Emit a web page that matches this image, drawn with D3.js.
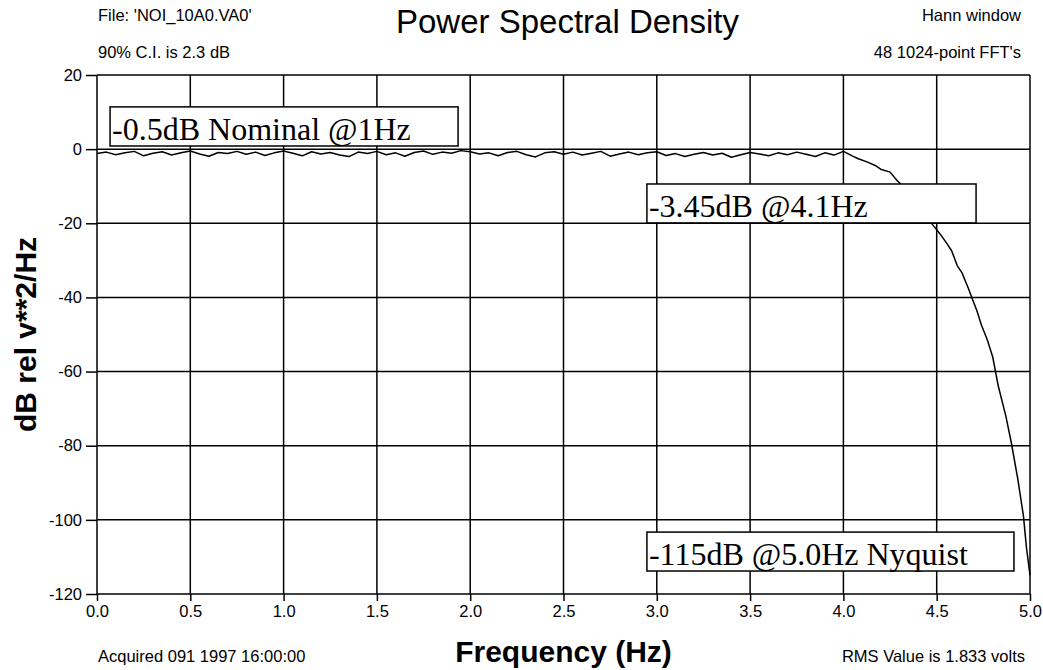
<!DOCTYPE html>
<html>
<head>
<meta charset="utf-8">
<script src="https://cdn.jsdelivr.net/npm/d3@7"></script>
<style>
	body { margin: 0; background: #fff; }
	svg { display: block; }
	.sans { font-family: "Liberation Sans", Arial, sans-serif; }
	.serif { font-family: "Liberation Serif", "Times New Roman", serif; }
</style>
</head>
<body>
<div id="plot"></div>
<script>
// Axis ticks and labels.
var xTicks = [0, 0.5, 1.0, 1.5, 2.0, 2.5, 3.0, 3.5, 4.0, 4.5, 5.0];
var xTickLabels = ["0.0", "0.5", "1.0", "1.5", "2.0", "2.5", "3.0", "3.5", "4.0", "4.5", "5.0"];
var yTicks = [20, 0, -20, -40, -60, -80, -100, -120];

// Flat part of the spectrum, one value every 0.05 Hz from 0.0 to 4.0 Hz (dB).
var flatStep = 0.05;
var flatDb = [-1.2, -0.8, -1.5, -1.0, -0.6, -1.8, -1.1, -0.7, -1.6, -1.0,
	-0.5, -1.3, -1.9, -0.9, -1.2, -0.6, -1.4, -0.8, -1.7, -1.0,
	-0.5, -1.1, -1.8, -0.7, -1.3, -0.9, -1.6, -2.0, -0.8, -1.2,
	-0.6, -1.5, -1.0, -1.9, -0.9, -0.5, -1.4, -0.8, -1.1, -0.4,
	-0.7, -1.3, -1.0, -1.8, -0.9, -0.6, -1.5, -2.1, -1.0, -0.7,
	-1.4, -0.8, -1.6, -1.1, -0.6, -1.9, -1.3, -0.8, -1.5, -1.0,
	-0.7, -1.7, -1.2, -2.0, -1.4, -0.9, -1.6, -1.1, -2.2, -1.5,
	-0.9, -1.3, -1.8, -1.0, -1.5, -0.8, -1.4, -2.0, -1.0, -1.6,
	-0.6];

// Roll-off above 4 Hz.
var rollFreq = [4.05, 4.08, 4.13, 4.17, 4.20, 4.25, 4.29, 4.33, 4.37, 4.41,
	4.45, 4.48, 4.52, 4.555, 4.58, 4.61, 4.635, 4.67, 4.69, 4.715,
	4.74, 4.77, 4.80, 4.83, 4.87, 4.90, 4.935, 4.965, 4.98, 5.0];
var rollDb = [-1.9, -2.6, -3.5, -4.4, -5.4, -6.2, -8.6, -10.5, -12.5, -15.5,
	-18.5, -20.5, -23.0, -25.5, -27.4, -31.4, -33.3, -37.6, -40.3, -43.5,
	-47.5, -51.3, -56.0, -63.9, -71.9, -79.2, -89.1, -99.0, -107.0, -115.0];

// Annotation boxes (text, freq range, dB range).
var annoText = ["-0.5dB Nominal @1Hz", "-3.45dB @4.1Hz", "-115dB @5.0Hz Nyquist"];
var annoF0 = [0.07, 2.947, 2.947];
var annoF1 = [1.935, 4.711, 4.914];
var annoTop = [11.4, -9.4, -103.3];
var annoBottom = [0.85, -19.9, -113.8];

// Page and plot area.
var W = 1043, H = 670;
var plotLeft = 97, plotRight = 1030, plotTop = 75, plotBottom = 594;

var svg = d3.select("#plot")
	.append("svg")
	.attr("width", W)
	.attr("height", H);

var x = d3.scaleLinear().domain([0, 5]).range([plotLeft, plotRight]);
var y = d3.scaleLinear().domain([-120, 20]).range([plotBottom, plotTop]);

// Grid lines.
svg.append("g")
	.selectAll("line")
	.data(xTicks)
	.enter().append("line")
		.attr("x1", d => x(d)).attr("x2", d => x(d))
		.attr("y1", plotTop).attr("y2", plotBottom)
		.attr("stroke", "#000").attr("stroke-width", 1.5);
svg.append("g")
	.selectAll("line")
	.data(yTicks)
	.enter().append("line")
		.attr("x1", plotLeft).attr("x2", plotRight)
		.attr("y1", d => y(d)).attr("y2", d => y(d))
		.attr("stroke", "#000").attr("stroke-width", 1.5);

// Y axis ticks + labels (plain hyphen minus like the original).
var yAxis = svg.append("g")
	.attr("class", "sans")
	.attr("transform", "translate(" + plotLeft + ",0)")
	.call(d3.axisLeft(y).tickValues(yTicks).tickSize(11).tickPadding(4).tickFormat(d => String(d)));
yAxis.select(".domain").remove();
yAxis.selectAll("line").attr("stroke-width", 1.5);
yAxis.selectAll("text").style("font-size", "16.5px").attr("fill", "#000");

// X axis ticks + labels.
var xAxis = svg.append("g")
	.attr("class", "sans")
	.attr("transform", "translate(0," + plotBottom + ")")
	.call(d3.axisBottom(x).tickValues(xTicks).tickSize(7).tickPadding(4).tickFormat((d, i) => xTickLabels[i]));
xAxis.select(".domain").remove();
xAxis.selectAll("line").attr("stroke-width", 1.5);
xAxis.selectAll("text").style("font-size", "16.5px").attr("fill", "#000");

// Spectrum curve.
var points = flatDb.map((v, i) => [i * flatStep, v])
	.concat(rollFreq.map((f, i) => [f, rollDb[i]]));
svg.append("path")
	.datum(points)
	.attr("fill", "none")
	.attr("stroke", "#000")
	.attr("stroke-width", 1.5)
	.attr("stroke-linejoin", "round")
	.attr("d", d3.line().x(d => x(d[0])).y(d => y(d[1])));

// Annotation boxes.
var anno = svg.append("g")
	.selectAll("g")
	.data(annoText)
	.enter().append("g");
anno.append("rect")
	.attr("x", (d, i) => x(annoF0[i]))
	.attr("y", (d, i) => y(annoTop[i]))
	.attr("width", (d, i) => x(annoF1[i]) - x(annoF0[i]))
	.attr("height", (d, i) => y(annoBottom[i]) - y(annoTop[i]))
	.attr("fill", "#fff")
	.attr("stroke", "#000")
	.attr("stroke-width", 1.5);
anno.append("text")
	.attr("class", "serif")
	.attr("x", (d, i) => x(annoF0[i]) + 2)
	.attr("y", (d, i) => y(annoBottom[i]) - 6)
	.style("font-size", "32px")
	.text(d => d);

// Header texts.
svg.append("text").attr("class", "sans")
	.attr("x", (plotLeft + plotRight) / 2 + 4).attr("y", 33)
	.attr("text-anchor", "middle")
	.style("font-size", "33px")
	.text("Power Spectral Density");
svg.append("text").attr("class", "sans")
	.attr("x", 98).attr("y", 21)
	.style("font-size", "16.5px")
	.text("File: 'NOI_10A0.VA0'");
svg.append("text").attr("class", "sans")
	.attr("x", 98).attr("y", 58)
	.style("font-size", "16.5px")
	.text("90% C.I. is 2.3 dB");
svg.append("text").attr("class", "sans")
	.attr("x", 1021).attr("y", 21)
	.attr("text-anchor", "end")
	.style("font-size", "16.5px")
	.text("Hann window");
svg.append("text").attr("class", "sans")
	.attr("x", 1021).attr("y", 58)
	.attr("text-anchor", "end")
	.style("font-size", "16.5px")
	.text("48 1024-point FFT's");

// Footer texts.
svg.append("text").attr("class", "sans")
	.attr("x", 98).attr("y", 662)
	.style("font-size", "16.5px")
	.text("Acquired 091 1997 16:00:00");
svg.append("text").attr("class", "sans")
	.attr("x", (plotLeft + plotRight) / 2).attr("y", 662)
	.attr("text-anchor", "middle")
	.style("font-size", "30px")
	.style("font-weight", "bold")
	.text("Frequency (Hz)");
svg.append("text").attr("class", "sans")
	.attr("x", 1025).attr("y", 662)
	.attr("text-anchor", "end")
	.style("font-size", "16.5px")
	.text("RMS Value is 1.833 volts");

// Y axis title.
svg.append("text").attr("class", "sans")
	.attr("transform", "translate(36," + ((plotTop + plotBottom) / 2) + ") rotate(-90)")
	.attr("text-anchor", "middle")
	.style("font-size", "30px")
	.style("font-weight", "bold")
	.text("dB rel v**2/Hz");
</script>
</body>
</html>
